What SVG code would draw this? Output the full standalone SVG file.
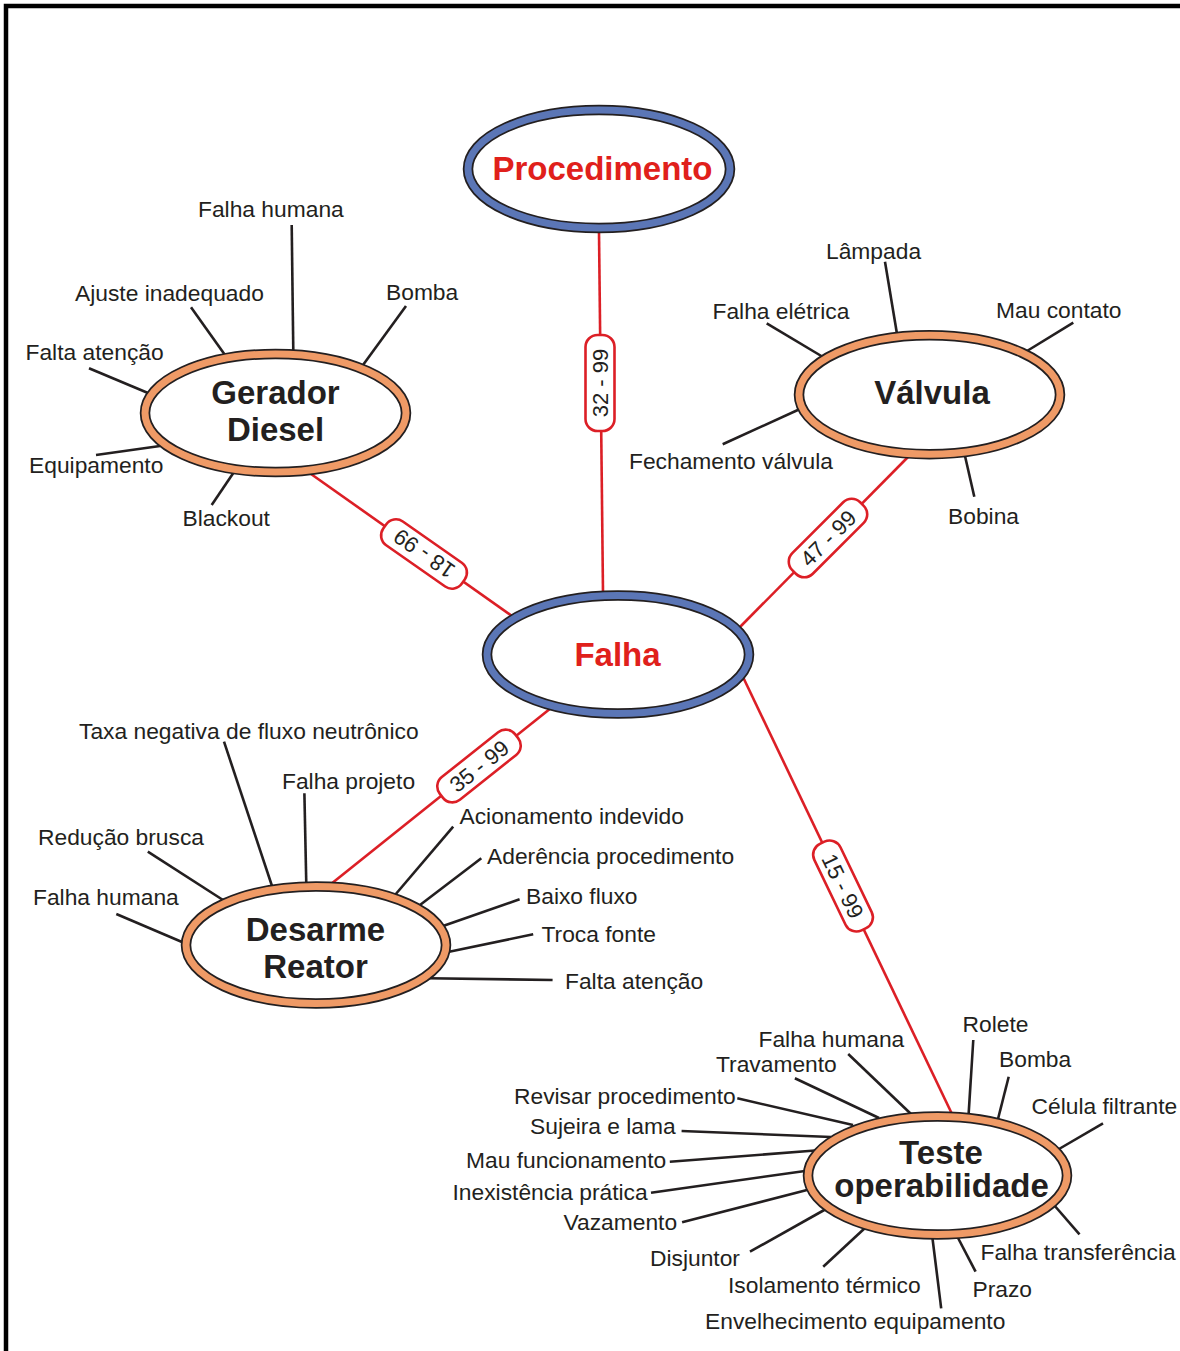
<svg xmlns="http://www.w3.org/2000/svg" width="1180" height="1351" viewBox="0 0 1180 1351">
<style>
.lbl{font-family:"Liberation Sans",Arial,sans-serif;font-size:22.8px;fill:#231f20}
.node{font-family:"Liberation Sans",Arial,sans-serif;font-size:33px;font-weight:bold;text-anchor:middle}
.dark{fill:#231f20}
.red{fill:#e0201b}
.spoke{stroke:#231f20;stroke-width:2.6;fill:none}
.conn{stroke:#dc1f26;stroke-width:2.6;fill:none}
.edge{fill:#fff;stroke:#231f20;stroke-width:10.5}
.blue{fill:none;stroke:#5b76b6;stroke-width:7}
.orange{fill:none;stroke:#ef9a66;stroke-width:7}
.pill{fill:#fff;stroke:#dc1f26;stroke-width:2.6}
.pilltxt{font-family:"Liberation Sans",Arial,sans-serif;font-size:22px;fill:#231f20;text-anchor:middle}
</style>
<rect width="1180" height="1351" fill="#fff"/>
<path d="M6,1351 V6 H1180" fill="none" stroke="#000" stroke-width="4.5"/>

<g id="connectors">
<line class="conn" x1="599" y1="232" x2="603" y2="592"/>
<line class="conn" x1="311" y1="474" x2="512" y2="616"/>
<line class="conn" x1="908" y1="457" x2="739" y2="628"/>
<line class="conn" x1="331" y1="884" x2="551" y2="708"/>
<line class="conn" x1="743" y1="677" x2="952" y2="1114"/>
<g transform="translate(600,383) rotate(-90)"><rect class="pill" x="-48" y="-14.5" width="96" height="29" rx="12"/><text class="pilltxt" y="8">32 - 99</text></g>
<g transform="translate(424,554) rotate(215)"><rect class="pill" x="-48" y="-14.5" width="96" height="29" rx="12"/><text class="pilltxt" y="8">18 - 99</text></g>
<g transform="translate(828,538) rotate(-45)"><rect class="pill" x="-48" y="-14.5" width="96" height="29" rx="12"/><text class="pilltxt" y="8">47 - 99</text></g>
<g transform="translate(479,766) rotate(-38.5)"><rect class="pill" x="-48" y="-14.5" width="96" height="29" rx="12"/><text class="pilltxt" y="8">35 - 99</text></g>
<g transform="translate(843,886) rotate(64.3)"><rect class="pill" x="-48" y="-14.5" width="96" height="29" rx="12"/><text class="pilltxt" y="8">15 - 99</text></g>
</g>

<g id="procedimento">
<ellipse class="edge" cx="599" cy="169" rx="131" ry="59"/>
<ellipse class="blue" cx="599" cy="169" rx="131" ry="59"/>
<text class="node red" x="602.5" y="179.5">Procedimento</text>
</g>

<g id="falha">
<ellipse class="edge" cx="618" cy="654.5" rx="131" ry="59"/>
<ellipse class="blue" cx="618" cy="654.5" rx="131" ry="59"/>
<text class="node red" x="617.5" y="665.5">Falha</text>
</g>

<g id="gerador-diesel">
<line class="spoke" x1="291.7" y1="225" x2="293.3" y2="352"/>
<line class="spoke" x1="191" y1="307.3" x2="225" y2="355"/>
<line class="spoke" x1="406" y1="306" x2="363" y2="365"/>
<line class="spoke" x1="89" y1="368.3" x2="148" y2="393"/>
<line class="spoke" x1="96" y1="455" x2="160" y2="446"/>
<line class="spoke" x1="211.7" y1="505" x2="234" y2="472"/>
<ellipse class="edge" cx="275.5" cy="413" rx="130.5" ry="59"/>
<ellipse class="orange" cx="275.5" cy="413" rx="130.5" ry="59"/>
<text class="node dark" x="275.5" y="403.5">Gerador</text>
<text class="node dark" x="275.5" y="440.5">Diesel</text>
<text class="lbl" x="198" y="217">Falha humana</text>
<text class="lbl" x="75" y="301">Ajuste inadequado</text>
<text class="lbl" x="386" y="300">Bomba</text>
<text class="lbl" x="25.5" y="360">Falta atenção</text>
<text class="lbl" x="29" y="472.5">Equipamento</text>
<text class="lbl" x="182.5" y="526">Blackout</text>
</g>

<g id="valvula">
<line class="spoke" x1="885" y1="261.7" x2="897" y2="334"/>
<line class="spoke" x1="766.7" y1="323.3" x2="823" y2="357"/>
<line class="spoke" x1="1073.3" y1="322.7" x2="1027" y2="351"/>
<line class="spoke" x1="722.7" y1="444.3" x2="800" y2="409"/>
<line class="spoke" x1="974.3" y1="496.7" x2="965" y2="456"/>
<ellipse class="edge" cx="929.5" cy="394.7" rx="130.5" ry="59.5"/>
<ellipse class="orange" cx="929.5" cy="394.7" rx="130.5" ry="59.5"/>
<text class="node dark" x="932" y="404">Válvula</text>
<text class="lbl" x="826" y="258.5">Lâmpada</text>
<text class="lbl" x="712.5" y="318.5">Falha elétrica</text>
<text class="lbl" x="996" y="318">Mau contato</text>
<text class="lbl" x="629" y="468.5">Fechamento válvula</text>
<text class="lbl" x="948" y="523.5">Bobina</text>
</g>

<g id="desarme-reator">
<line class="spoke" x1="224" y1="741.7" x2="272" y2="886"/>
<line class="spoke" x1="304.4" y1="793.3" x2="306.3" y2="884"/>
<line class="spoke" x1="147.8" y1="851.7" x2="223" y2="900"/>
<line class="spoke" x1="116.3" y1="914" x2="182" y2="942"/>
<line class="spoke" x1="453.2" y1="826.7" x2="395" y2="895"/>
<line class="spoke" x1="481.3" y1="858.3" x2="420" y2="905"/>
<line class="spoke" x1="519.6" y1="899.3" x2="443" y2="926"/>
<line class="spoke" x1="533.2" y1="934.3" x2="448" y2="952"/>
<line class="spoke" x1="552.6" y1="980" x2="428" y2="978.3"/>
<ellipse class="edge" cx="316" cy="945" rx="130" ry="58.5"/>
<ellipse class="orange" cx="316" cy="945" rx="130" ry="58.5"/>
<text class="node dark" x="315.5" y="940.5">Desarme</text>
<text class="node dark" x="315.5" y="977.5">Reator</text>
<text class="lbl" x="79" y="738.5">Taxa negativa de fluxo neutrônico</text>
<text class="lbl" x="282" y="788.5">Falha projeto</text>
<text class="lbl" x="38" y="845">Redução brusca</text>
<text class="lbl" x="33" y="905">Falha humana</text>
<text class="lbl" x="459.5" y="824">Acionamento indevido</text>
<text class="lbl" x="487" y="863.5">Aderência procedimento</text>
<text class="lbl" x="526" y="903.5">Baixo fluxo</text>
<text class="lbl" x="541.5" y="941.5">Troca fonte</text>
<text class="lbl" x="565" y="988.5">Falta atenção</text>
</g>

<g id="teste-operabilidade">
<line class="spoke" x1="973.3" y1="1040" x2="968.5" y2="1116"/>
<line class="spoke" x1="1008.7" y1="1076.7" x2="998" y2="1119"/>
<line class="spoke" x1="1103" y1="1123.3" x2="1059" y2="1149"/>
<line class="spoke" x1="848.2" y1="1054" x2="911" y2="1114"/>
<line class="spoke" x1="794.9" y1="1078.3" x2="879" y2="1118"/>
<line class="spoke" x1="737.3" y1="1098.3" x2="853" y2="1125"/>
<line class="spoke" x1="681.6" y1="1131" x2="831" y2="1137"/>
<line class="spoke" x1="669.8" y1="1161.7" x2="815" y2="1150.5"/>
<line class="spoke" x1="651" y1="1192.7" x2="805" y2="1171"/>
<line class="spoke" x1="682.1" y1="1222.3" x2="807" y2="1190"/>
<line class="spoke" x1="750" y1="1251.7" x2="826" y2="1209"/>
<line class="spoke" x1="823.2" y1="1266.7" x2="865" y2="1228"/>
<line class="spoke" x1="941.2" y1="1308.3" x2="932.2" y2="1236"/>
<line class="spoke" x1="975.6" y1="1271.7" x2="957" y2="1236"/>
<line class="spoke" x1="1079.5" y1="1234.3" x2="1054" y2="1205"/>
<ellipse class="edge" cx="937.5" cy="1175.5" rx="129.5" ry="59"/>
<ellipse class="orange" cx="937.5" cy="1175.5" rx="129.5" ry="59"/>
<text class="node dark" x="941" y="1164">Teste</text>
<text class="node dark" x="941.5" y="1197">operabilidade</text>
<text class="lbl" x="962.5" y="1032">Rolete</text>
<text class="lbl" x="999" y="1067">Bomba</text>
<text class="lbl" x="1031.5" y="1113.5">Célula filtrante</text>
<text class="lbl" x="758.5" y="1047">Falha humana</text>
<text class="lbl" x="716" y="1072">Travamento</text>
<text class="lbl" x="514" y="1104">Revisar procedimento</text>
<text class="lbl" x="530" y="1134">Sujeira e lama</text>
<text class="lbl" x="466" y="1167.5">Mau funcionamento</text>
<text class="lbl" x="452.5" y="1200">Inexistência prática</text>
<text class="lbl" x="563.5" y="1230">Vazamento</text>
<text class="lbl" x="650" y="1266">Disjuntor</text>
<text class="lbl" x="728" y="1292.5">Isolamento térmico</text>
<text class="lbl" x="705" y="1328.5">Envelhecimento equipamento</text>
<text class="lbl" x="972.5" y="1297">Prazo</text>
<text class="lbl" x="980.5" y="1259.5">Falha transferência</text>
</g>
</svg>
